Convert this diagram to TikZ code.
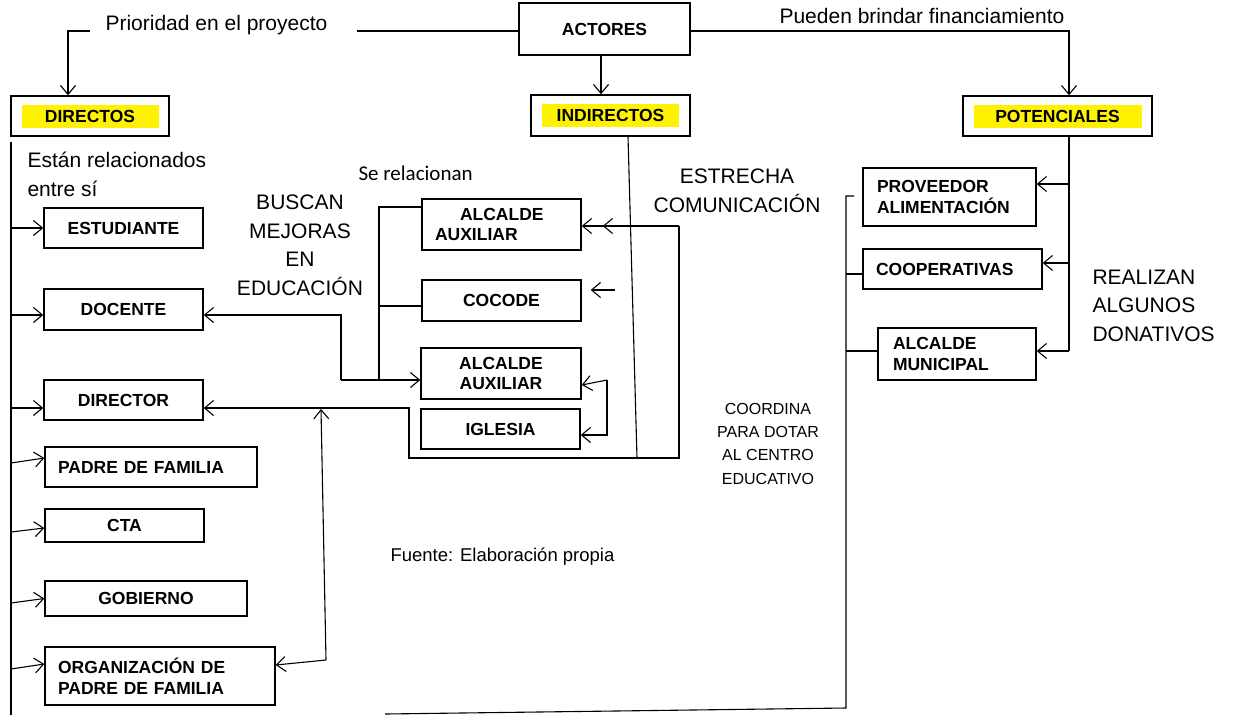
\documentclass[tikz,border=0pt]{standalone}
\usepackage{fontspec}
\setmainfont{Liberation Sans}
\newfontfamily\carlito{Carlito}
\usetikzlibrary{arrows.meta,calc}

\begin{document}
\begin{tikzpicture}[x=1pt,y=-1pt,line width=1.1pt,
	box/.style={draw,line width=1.4pt,inner sep=0pt,font=\bfseries\fontsize{17.5}{20.5}\selectfont},
	lbox/.style={box,align=left},
	hl/.style={fill=yellow,inner sep=0pt,minimum height=23pt,font=\bfseries\fontsize{17.5}{20.5}\selectfont},
	lbl/.style={inner sep=0pt,font=\fontsize{21}{28.5}\selectfont},
	sml/.style={inner sep=0pt,font=\fontsize{16}{23.3}\selectfont},
	arr/.style={-{Straight Barb[length=9pt,width=15pt]}}]
				\useasboundingbox (0,0) rectangle (1233,715);
				% cabecera
				\node[box,minimum width=171pt,minimum height=52pt] (actores) at (604.5,29) {ACTORES};
				\node[box,minimum width=158pt,minimum height=40pt] (directos) at (90,116) {};
				\node[hl,minimum width=137pt] (directos-t) at (directos) {DIRECTOS};
				\node[box,minimum width=159pt,minimum height=41pt] (indirectos) at (610.5,115.5) {};
				\node[hl,minimum width=137pt] (indirectos-t) at (indirectos) {INDIRECTOS};
				\node[box,minimum width=189pt,minimum height=40pt] (potenciales) at (1057.5,116) {};
				\node[hl,minimum width=168pt] (potenciales-t) at (potenciales) {POTENCIALES};
				% directos
				\node[box,minimum width=159pt,minimum height=40pt] (estudiante) at (123.5,228) {ESTUDIANTE};
				\node[box,minimum width=159pt,minimum height=41pt] (docente) at (123.5,309.5) {DOCENTE};
				\node[box,minimum width=159pt,minimum height=40pt] (director) at (123.5,400) {DIRECTOR};
				\node[lbox,text width=186pt,inner xsep=13pt,minimum height=40pt] (padre) at (151,467) {PADRE DE FAMILIA};
				\node[box,minimum width=159pt,minimum height=33pt] (cta) at (124.5,525.5) {CTA};
				\node[box,minimum width=202pt,minimum height=35pt] (gobierno) at (146,598.5) {GOBIERNO};
				\node[lbox,text width=204pt,inner xsep=13pt,minimum height=58pt] (organizacion) at (160,676) {ORGANIZACIÓN DE\\PADRE DE FAMILIA};
				% indirectos
				\node[lbox,text width=133pt,inner xsep=13pt,minimum height=51pt] (alcalde1) at (501.5,224.5) {\hspace*{25pt}ALCALDE\\AUXILIAR};
				\node[box,minimum width=159pt,minimum height=41pt] (cocode) at (501.5,300.5) {COCODE};
				\node[box,align=center,minimum width=160pt,minimum height=51pt] (alcalde2) at (501,373.5) {ALCALDE\\AUXILIAR};
				\node[box,minimum width=159pt,minimum height=40pt] (iglesia) at (500.5,429) {IGLESIA};
				% potenciales
				\node[lbox,text width=145pt,inner xsep=14pt,minimum height=58pt] (proveedor) at (949.5,197) {PROVEEDOR\\ALIMENTACIÓN};
				\node[lbox,text width=153pt,inner xsep=13pt,minimum height=40pt] (cooperativas) at (952.5,269) {COOPERATIVAS};
				\node[lbox,text width=128pt,inner xsep=15pt,minimum height=52pt] (municipal) at (957,354) {ALCALDE\\MUNICIPAL};
				% textos (base = ultima linea)
				\node[lbl,anchor=base west] (prioridad) at (105,30) {Prioridad en el proyecto};
				\node[lbl,anchor=base west] (financia) at (779,23) {Pueden brindar financiamiento};
				\node[lbl,anchor=base west,align=left] (relacion) at (27,196) {Están relacionados\\entre sí};
				\node[inner sep=0pt,anchor=base west,font=\carlito\fontsize{21}{25}\selectfont] (serelac) at (358,180) {Se relacionan};
				\node[lbl,anchor=base,align=center] (buscan) at (300,295) {BUSCAN\\MEJORAS\\EN\\EDUCACIÓN};
				\node[lbl,anchor=base,align=center] (estrecha) at (737,212) {ESTRECHA\\COMUNICACIÓN};
				\node[sml,anchor=base,align=center] (coordina) at (768,484) {COORDINA\\PARA DOTAR\\AL CENTRO\\EDUCATIVO};
				\node[lbl,anchor=base west,align=left] (realizan) at (1092,341) {REALIZAN\\ALGUNOS\\DONATIVOS};
				\node[inner sep=0pt,anchor=base west,font=\fontsize{18.5}{22}\selectfont] (fuente) at (390,561) {Fuente: Elaboración propia};
				% puntos
				\coordinate (pri) at (357,31);
				\coordinate (prl) at (90,31);
				\coordinate (dirin) at (68,31);
				\coordinate (fin) at (1069,31);
				\coordinate (ain) at ([xshift=-3.5pt]actores.south);
				\coordinate (lt) at (11,142);
				\coordinate (lb) at (11,715);
				\coordinate (st) at (379,207);
				\coordinate (sm) at (379,380);
				\coordinate (cr) at (379,306);
				\coordinate (dl) at (341,380);
				\coordinate (dk) at (341,315);
				\coordinate (c1) at (409,408);
				\coordinate (c2) at (409,458);
				\coordinate (c3) at (679,458);
				\coordinate (c4) at (679,226);
				\coordinate (ib) at (637,458);
				\coordinate (ou) at (321,409);
				\coordinate (od) at (326,660);
				\coordinate (ck) at (615,290);
				\coordinate (ai) at (607,380);
				\coordinate (ig) at (607,435);
				\coordinate (r1) at (1069,184);
				\coordinate (r2) at (1069,263);
				\coordinate (r3) at (1069,351);
				\coordinate (vt) at (854,196);
				\coordinate (v2) at (846,274);
				\coordinate (v3) at (846,351);
				\coordinate (vb) at (846,708);
				\coordinate (bl) at (385,714);
				% conectores
				\draw (actores.west |- pri) -- (pri);
				\draw[arr] (prl) -- (dirin) -- (dirin |- directos.north);
				\draw[arr] (actores.east |- fin) -- (fin) -- (fin |- potenciales.north);
				\draw[arr] (ain) -- (ain |- indirectos.north);
				\draw (lt) -- (lb);
				\draw[arr] (lt |- estudiante.west) -- (estudiante.west);
				\draw[arr] ($(lt |- docente.west)+(0,5.5)$) -- ($(docente.west)+(0,5.5)$);
				\draw[arr] ($(lt |- director.west)+(0,8)$) -- ($(director.west)+(0,8)$);
				\draw[arr] ($(lt |- padre.west)+(0,-4)$) -- ($(padre.west)+(0,-9)$);
				\draw[arr] ($(lt |- cta.west)+(0,6.5)$) -- ($(cta.west)+(0,2.5)$);
				\draw[arr] ($(lt |- gobierno.west)+(0,4.5)$) -- (gobierno.west);
				\draw[arr] ($(lt |- organizacion.west)+(0,-7)$) -- ($(organizacion.west)+(0,-12)$);
				\draw (alcalde1.west |- st) -- (st) -- (sm);
				\draw (cr) -- (cocode.west |- cr);
				\draw[arr] (dl) -- (alcalde2.west |- dl);
				\draw[arr] (dl) -- (dk) -- (docente.east |- dk);
				\draw[arr] (c4) -- (c3) -- (c2) -- (c1) -- (director.east |- c1);
				\draw[arr] (c4) -- (alcalde1.east |- c4);
				\draw[arr] (c4) -- ($(alcalde1.east |- c4)+(21,0)$);
				\draw ($(indirectos.south)+(17.5,0)$) -- (ib);
				\draw[arr] (od) -- (ou);
				\draw[arr] (od) -- ($(organizacion.east)+(0,-11)$);
				\draw[arr] (ck) -- ($(cocode.east |- ck)+(9,0)$);
				\draw[arr] (ai) -- ($(alcalde2.east)+(0,11.5)$);
				\draw[arr] (ai) -- (ig) -- (iglesia.east |- ig);
				\draw (fin |- potenciales.south) -- (r3);
				\draw[arr] (r1) -- (proveedor.east |- r1);
				\draw[arr] (r2) -- (cooperativas.east |- r2);
				\draw[arr] (r3) -- (municipal.east |- r3);
				\draw (vt) -| (vb) -- (bl);
				\draw (v2) -- (cooperativas.west |- v2);
				\draw (v3) -- (municipal.west |- v3);
\end{tikzpicture}
\end{document}
